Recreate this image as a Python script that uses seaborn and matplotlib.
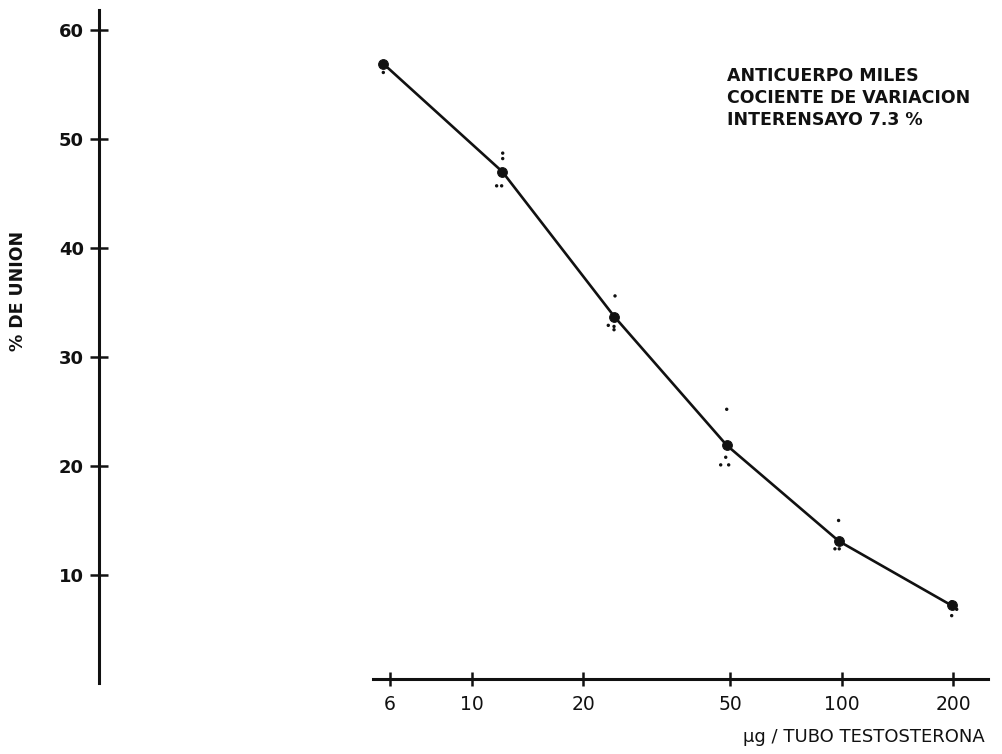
import matplotlib
matplotlib.use("Agg")
import matplotlib.pyplot as plt
import seaborn as sns
import pandas as pd

# ---- data ----
dose = [5.77, 12.1, 24.3, 48.9, 98.3, 198.3]
union = [56.9, 47.0, 33.7, 21.9, 13.1, 7.2]

rep_dose = [5.77, 12.13, 12.13, 11.68, 12.05, 24.40, 23.40, 24.25, 24.25,
            48.9, 48.6, 47.1, 49.5, 98.1, 95.9, 98.5, 198.3, 204.6, 198.3]
rep_union = [56.1, 48.7, 48.2, 45.7, 45.7, 35.6, 32.9, 32.8, 32.5,
             25.2, 20.8, 20.1, 20.1, 15.0, 12.4, 12.4, 7.55, 6.85, 6.27]

x_ticks = [6, 10, 20, 50, 100, 200]
x_tick_labels = ["6", "10", "20", "50", "100", "200"]
y_ticks = [10, 20, 30, 40, 50, 60]
y_tick_labels = ["10", "20", "30", "40", "50", "60"]

annotation = "ANTICUERPO MILES\nCOCIENTE DE VARIACION\nINTERENSAYO 7.3 %"
x_label = "µg / TUBO TESTOSTERONA"
y_label = "% DE UNION"

sns.set_style("white")
plt.rcParams["font.family"] = ["DejaVu Sans"]

ink = "#111111"
W, H = 1003, 754
fig = plt.figure(figsize=(W / 100, H / 100), dpi=100)
ax = fig.add_axes([99 / W, 1 - 683 / H, (988 - 99) / W, (683 - 10) / H])

main = pd.DataFrame({"dose": dose, "union": union})
reps = pd.DataFrame({"dose": rep_dose, "union": rep_union})

sns.lineplot(data=main, x="dose", y="union", ax=ax, color=ink, lw=1.9,
             marker="o", markersize=7, markeredgecolor=ink, markerfacecolor=ink,
             estimator=None, sort=False)
sns.scatterplot(data=reps, x="dose", y="union", ax=ax, color=ink, s=6,
                edgecolor="none")

ax.set_xscale("log")
ax.set_xlim(0.9834, 248.6)
ax.set_ylim(0.09, 61.83)

for s in ["top", "right"]:
    ax.spines[s].set_visible(False)
ax.spines["left"].set_linewidth(2.2)
ax.spines["left"].set_color(ink)
ax.spines["bottom"].set_linewidth(2.2)
ax.spines["bottom"].set_color(ink)
ax.spines["bottom"].set_position(("data", 0.46))
ax.spines["bottom"].set_bounds(5.41, 248.6)

ax.set_xticks(x_ticks)
ax.set_xticklabels(x_tick_labels)
ax.xaxis.set_minor_locator(matplotlib.ticker.NullLocator())
ax.set_yticks(y_ticks)
ax.set_yticklabels(y_tick_labels, fontweight="bold")

ax.tick_params(axis="y", direction="inout", length=13, width=1.8, pad=4.3,
               colors=ink, left=True, labelsize=13)
ax.tick_params(axis="x", direction="inout", length=10, width=1.8, pad=6.5,
               colors=ink, bottom=True, labelsize=13.5)
ax.set_xlabel("")
ax.set_ylabel("")
ax.grid(False)

fig.text(727 / W, 1 - 67 / H, annotation, ha="left", va="top", fontsize=12.5,
         fontweight="bold", color=ink, linespacing=1.28)
fig.text(985 / W, 1 - 737 / H, x_label, ha="right", va="center", fontsize=13,
         color=ink)
fig.text(18 / W, 1 - 291 / H, y_label, ha="center", va="center", fontsize=12.5,
         fontweight="bold", rotation=90, color=ink)

fig.savefig("out.png", dpi=100, facecolor="white")
